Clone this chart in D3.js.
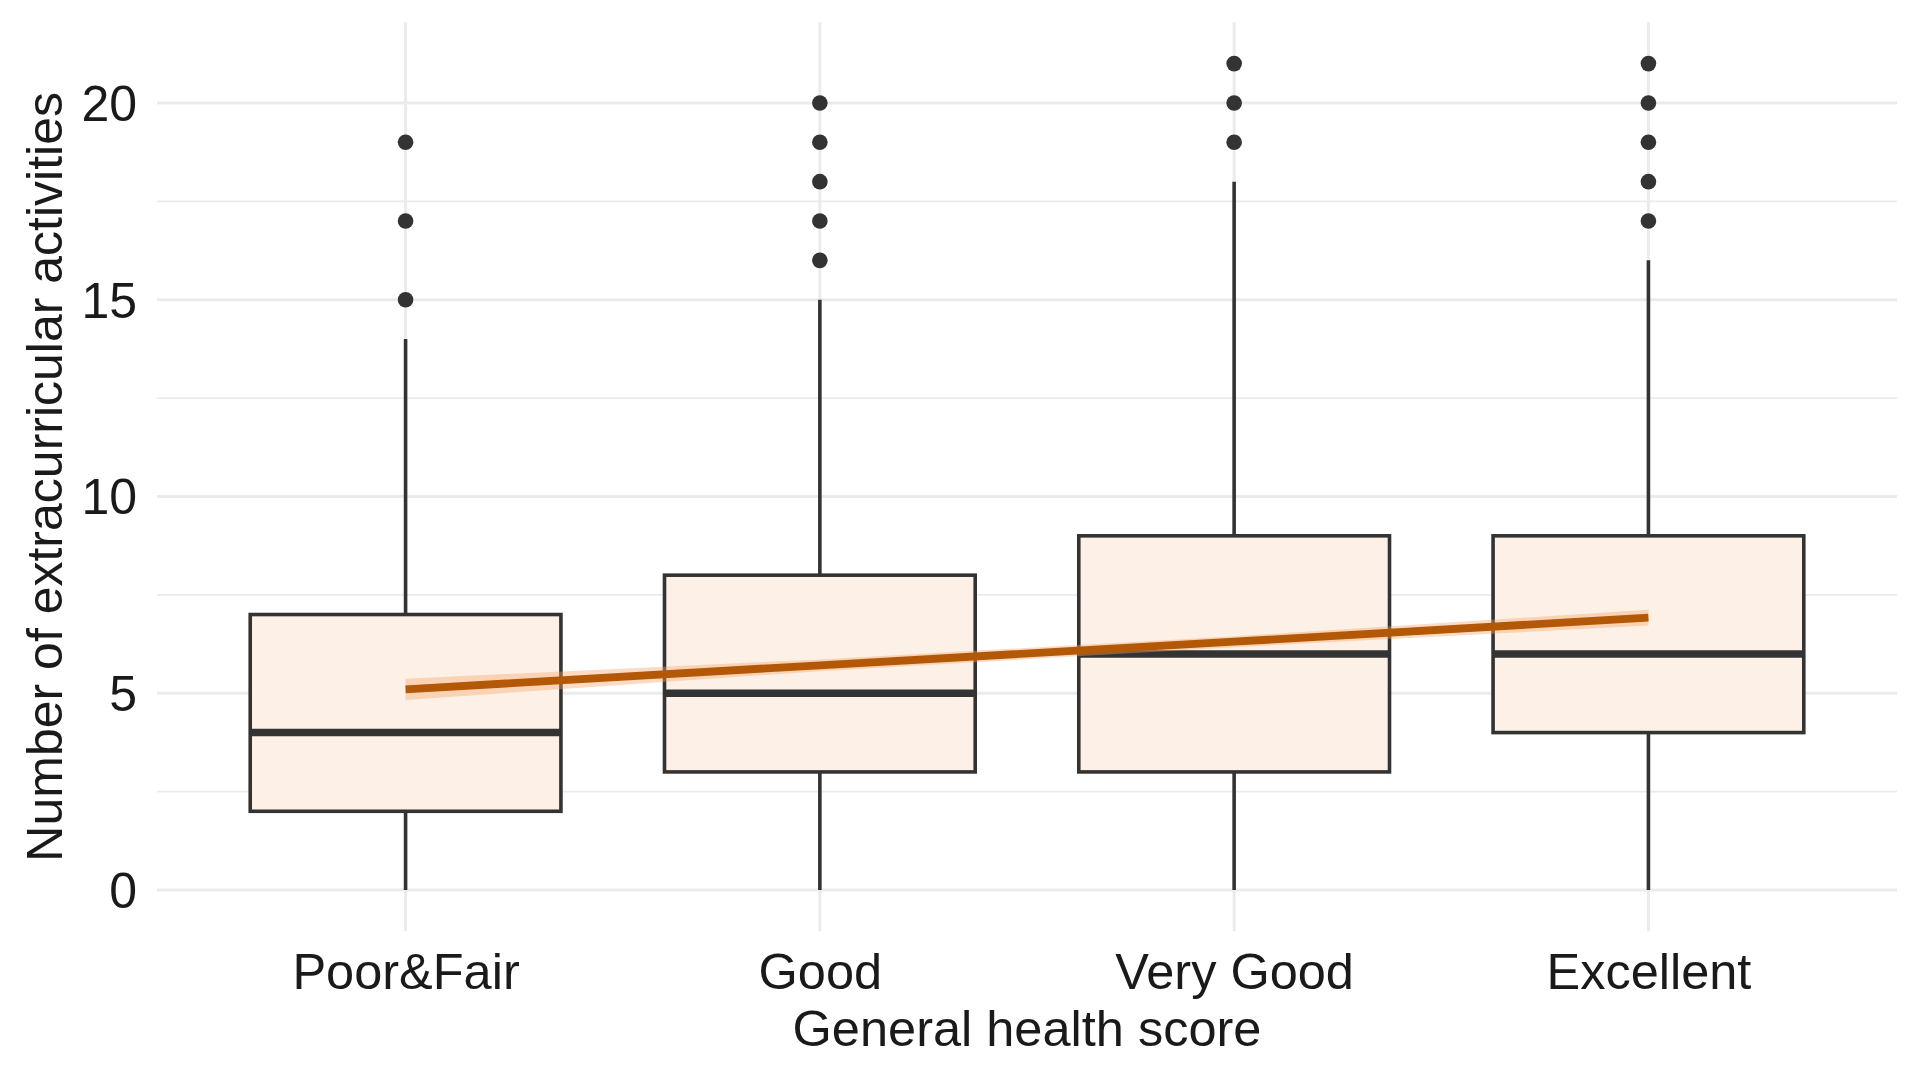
<!DOCTYPE html>
<html>
<head>
<meta charset="utf-8">
<script src="https://cdn.jsdelivr.net/npm/d3@7"></script>
<style>
  body { margin: 0; background: #fff; }
  svg text { font-family: "Liberation Sans", Arial, sans-serif; fill: #1a1a1a; }
</style>
</head>
<body>
<svg width="1920" height="1080"></svg>
<script>
// box stats, one entry per health category
var categories = ["Poor&Fair", "Good", "Very Good", "Excellent"];
var whiskerLow  = [0, 0, 0, 0];
var q1          = [2, 3, 3, 4];
var median      = [4, 5, 6, 6];
var q3          = [7, 8, 9, 9];
var whiskerHigh = [14, 15, 18, 16];
var outliers = [
  [15, 17, 19],
  [16, 17, 18, 19, 20],
  [19, 20, 21],
  [17, 18, 19, 20, 21]
];

// linear trend with its confidence band
var trendFit  = [5.10, 5.71, 6.31, 6.92];
var trendLow  = [4.83, 5.56, 6.17, 6.72];
var trendHigh = [5.37, 5.86, 6.45, 7.12];

var yTicks = [0, 5, 10, 15, 20];
var yMinor = [2.5, 7.5, 12.5, 17.5];

var svg = d3.select("svg");

// panel edges (named so they don't clash with window.top)
var panelLeft = 157, panelRight = 1897, panelTop = 22.3, panelBottom = 931.3;

var x = d3.scalePoint()
    .domain(categories)
    .range([panelLeft, panelRight])
    .padding(0.6);

var y = d3.scaleLinear()
    .domain([-1.05, 22.05])
    .range([panelBottom, panelTop]);

var boxW = x.step() * 0.75;

var boxes = categories.map(function(c, i) {
  return {cat: c, lo: whiskerLow[i], q1: q1[i], med: median[i], q3: q3[i], hi: whiskerHigh[i], out: outliers[i]};
});

// GRID
var grid = svg.append("g").attr("class", "grid");
grid.selectAll("line.minor")
    .data(yMinor).enter().append("line")
    .attr("x1", panelLeft).attr("x2", panelRight)
    .attr("y1", function(d) { return y(d); })
    .attr("y2", function(d) { return y(d); })
    .attr("stroke", "#ebebeb").attr("stroke-width", 1.8);
grid.selectAll("line.major")
    .data(yTicks).enter().append("line")
    .attr("x1", panelLeft).attr("x2", panelRight)
    .attr("y1", function(d) { return y(d); })
    .attr("y2", function(d) { return y(d); })
    .attr("stroke", "#ebebeb").attr("stroke-width", 3);
grid.selectAll("line.xmajor")
    .data(categories).enter().append("line")
    .attr("x1", function(d) { return x(d); })
    .attr("x2", function(d) { return x(d); })
    .attr("y1", panelTop).attr("y2", panelBottom)
    .attr("stroke", "#ebebeb").attr("stroke-width", 3);

// BOXES
var g = svg.append("g").attr("class", "boxes");

g.selectAll("line.whisker")
    .data(boxes).enter().append("line")
    .attr("x1", function(d) { return x(d.cat); })
    .attr("x2", function(d) { return x(d.cat); })
    .attr("y1", function(d) { return y(d.lo); })
    .attr("y2", function(d) { return y(d.hi); })
    .attr("stroke", "#333333").attr("stroke-width", 3.6);

g.selectAll("rect")
    .data(boxes).enter().append("rect")
    .attr("x", function(d) { return x(d.cat) - boxW / 2; })
    .attr("width", boxW)
    .attr("y", function(d) { return y(d.q3); })
    .attr("height", function(d) { return y(d.q1) - y(d.q3); })
    .attr("fill", "#fdf1e7")
    .attr("stroke", "#333333").attr("stroke-width", 3.6);

g.selectAll("line.median")
    .data(boxes).enter().append("line")
    .attr("x1", function(d) { return x(d.cat) - boxW / 2; })
    .attr("x2", function(d) { return x(d.cat) + boxW / 2; })
    .attr("y1", function(d) { return y(d.med); })
    .attr("y2", function(d) { return y(d.med); })
    .attr("stroke", "#333333").attr("stroke-width", 7.5);

var pts = [];
boxes.forEach(function(b) {
  b.out.forEach(function(v) { pts.push({cat: b.cat, v: v}); });
});
g.selectAll("circle")
    .data(pts).enter().append("circle")
    .attr("cx", function(d) { return x(d.cat); })
    .attr("cy", function(d) { return y(d.v); })
    .attr("r", 7.8)
    .attr("fill", "#333333");

// TREND
var trend = categories.map(function(c, i) {
  return {cat: c, fit: trendFit[i], lo: trendLow[i], hi: trendHigh[i]};
});

svg.append("path")
    .datum(trend)
    .attr("fill", "#f4a46a")
    .attr("fill-opacity", 0.4)
    .attr("d", d3.area()
      .x(function(d) { return x(d.cat); })
      .y0(function(d) { return y(d.lo); })
      .y1(function(d) { return y(d.hi); }));

svg.append("path")
    .datum(trend)
    .attr("fill", "none")
    .attr("stroke", "#b35806")
    .attr("stroke-width", 7.8)
    .attr("d", d3.line()
      .x(function(d) { return x(d.cat); })
      .y(function(d) { return y(d.fit); }));

// AXES
var yAxis = svg.append("g")
    .attr("transform", "translate(" + (panelLeft - 20) + ",0)")
    .call(d3.axisLeft(y).tickValues(yTicks).tickSize(0).tickPadding(0));
yAxis.select(".domain").remove();
yAxis.selectAll("text")
    .style("font-size", "50px")
    .attr("dy", "0.35em")
    .attr("fill", "#1a1a1a");

var xAxis = svg.append("g")
    .attr("transform", "translate(0," + panelBottom + ")")
    .call(d3.axisBottom(x).tickSize(0).tickPadding(0));
xAxis.select(".domain").remove();
xAxis.selectAll("text")
    .style("font-size", "50.5px")
    .attr("dy", null)
    .attr("y", 58)
    .attr("fill", "#1a1a1a");

svg.append("text")
    .attr("x", (panelLeft + panelRight) / 2)
    .attr("y", 1046)
    .attr("text-anchor", "middle")
    .style("font-size", "50.5px")
    .text("General health score");

svg.append("text")
    .attr("transform", "translate(62," + (panelTop + panelBottom) / 2 + ") rotate(-90)")
    .attr("text-anchor", "middle")
    .style("font-size", "50px")
    .text("Number of extracurricular activities");
</script>
</body>
</html>
